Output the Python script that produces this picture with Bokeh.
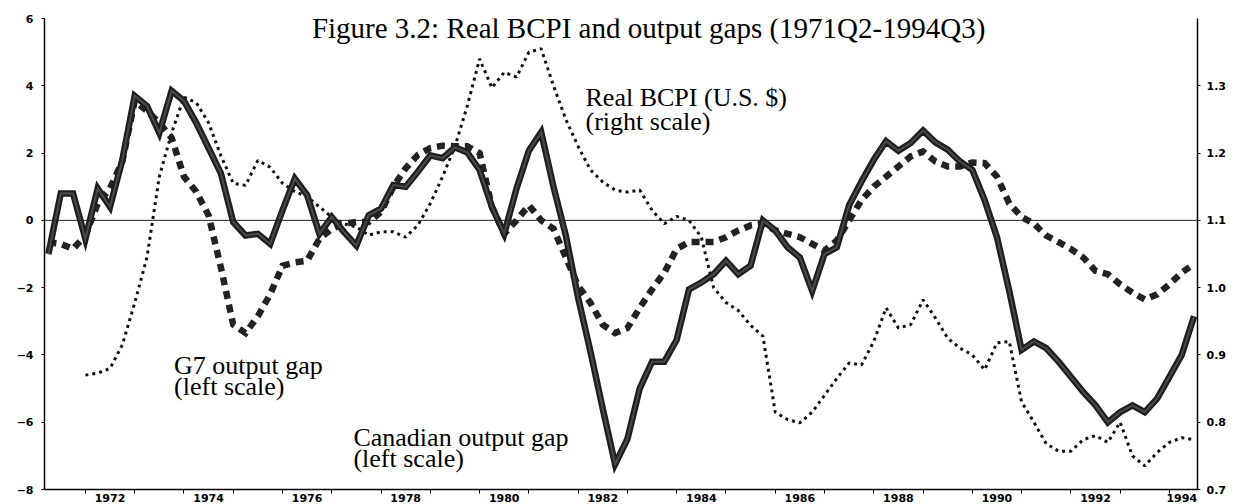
import numpy as np
from bokeh.plotting import figure
from bokeh.models import (Range1d, LinearAxis, FixedTicker, NumeralTickFormatter,
                          CustomJSTickFormatter, Span, Label, ColumnDataSource)
from bokeh.embed import file_html
from bokeh.resources import INLINE

# ---------------- data (quarterly, 1971Q2 - 1994Q3) ----------------
start_year = 1971
start_quarter = 2

canada_gap = [-1.0, 0.8, 0.8, -0.55, 0.95, 0.4, 1.8, 3.7, 3.4, 2.6,
              3.85, 3.55, 2.9, 2.15, 1.4, -0.05, -0.45, -0.4, -0.7, 0.3,
              1.24, 0.75, -0.4, 0.1, -0.35, -0.75, 0.15, 0.35, 1.05, 1.0,
              1.45, 1.93, 1.85, 2.17, 2.02, 1.5, 0.4, -0.4, 0.95, 2.07,
              2.62, 1.0, -0.45, -2.3, -3.9, -5.6, -7.25, -6.5, -5.0, -4.2,
              -4.2, -3.55, -2.05, -1.85, -1.6, -1.2, -1.6, -1.35, 0.0, -0.3,
              -0.8, -1.1, -2.1, -1.0, -0.8, 0.45, 1.15, 1.8, 2.35, 2.07,
              2.3, 2.67, 2.32, 2.1, 1.75, 1.5, 0.6, -0.5, -2.1, -3.85,
              -3.6, -3.8, -4.2, -4.65, -5.1, -5.5, -6.0, -5.7, -5.5, -5.7,
              -5.3, -4.65, -4.0, -2.85]

g7_gap = [-0.65, -0.7, -0.85, -0.45, 0.5, 0.95, 1.75, 3.55, 3.25, 2.9,
          2.45, 1.3, 0.85, 0.15, -1.4, -3.1, -3.35, -2.85, -2.2, -1.35,
          -1.25, -1.2, -0.55, -0.25, -0.1, -0.05, -0.05, 0.25, 1.0, 1.55,
          1.95, 2.15, 2.22, 2.2, 2.2, 2.0, 0.4, -0.4, 0.0, 0.45,
          0.0, -0.25, -1.1, -1.95, -2.45, -3.1, -3.35, -3.2, -2.6, -2.05,
          -1.55, -0.85, -0.64, -0.64, -0.64, -0.5, -0.3, -0.15, -0.1, -0.3,
          -0.4, -0.5, -0.7, -0.9, -0.6, 0.0, 0.6, 1.0, 1.3, 1.6,
          1.9, 2.05, 1.75, 1.6, 1.6, 1.72, 1.7, 1.3, 0.5, 0.1,
          -0.1, -0.45, -0.65, -0.85, -1.1, -1.5, -1.6, -1.9, -2.15, -2.35,
          -2.2, -1.9, -1.55, -1.3]

real_bcpi = [None, None, None, 0.870, 0.873, 0.880, 0.915, 0.977, 1.045, 1.165,
             1.23, 1.283, 1.275, 1.245, 1.196, 1.155, 1.152, 1.189, 1.179, 1.155,
             1.143, 1.135, 1.12, 1.105, 1.095, 1.09, 1.078, 1.083, 1.083, 1.075,
             1.093, 1.125, 1.165, 1.21, 1.27, 1.34, 1.297, 1.32, 1.313, 1.35,
             1.355, 1.30, 1.25, 1.21, 1.175, 1.157, 1.145, 1.142, 1.145, 1.115,
             1.095, 1.106, 1.10, 1.075, 1.0, 0.978, 0.966, 0.944, 0.928, 0.815,
             0.804, 0.799, 0.815, 0.84, 0.865, 0.888, 0.885, 0.92, 0.97, 0.94,
             0.945, 0.982, 0.955, 0.925, 0.91, 0.90, 0.878, 0.918, 0.92, 0.83,
             0.80, 0.768, 0.757, 0.757, 0.774, 0.78, 0.77, 0.80, 0.75, 0.735,
             0.755, 0.77, 0.777, 0.774]

label_years = [1972, 1974, 1976, 1978, 1980, 1982, 1984, 1986, 1988, 1990, 1992, 1994]
left_ticks = [-8, -6, -4, -2, 0, 2, 4, 6]
right_ticks = [0.7, 0.8, 0.9, 1.0, 1.1, 1.2, 1.3]

title_text = "Figure 3.2: Real BCPI and output gaps (1971Q2-1994Q3)"

# ---------------- time axis ----------------
n = len(canada_gap)
t = []
for i in range(n):
    qi = start_quarter - 1 + i
    t.append(start_year + qi // 4 + (qi % 4) / 4.0)

x_lo, x_hi = 1971.17, 1994.57

src = ColumnDataSource(dict(
    t=t,
    can=np.array(canada_gap, dtype=float),
    g7=np.array(g7_gap, dtype=float),
    bcpi=np.array([np.nan if v is None else v for v in real_bcpi], dtype=float),
))

p = figure(width=1243, height=504, x_range=Range1d(x_lo, x_hi), y_range=Range1d(-8, 6),
           output_backend="svg", toolbar_location=None,
           min_border_left=44, min_border_right=46, min_border_top=18, min_border_bottom=10)
p.extra_y_ranges = {"bcpi": Range1d(0.7, 1.4)}
p.outline_line_color = None
p.grid.visible = False
p.background_fill_color = "white"
p.border_fill_color = "white"

# zero line
p.add_layout(Span(location=0, dimension="width", line_color="#222222", line_width=1))

# series
p.line("t", "bcpi", source=src, y_range_name="bcpi", line_color="#111111",
       line_width=3, line_dash="3 4")
p.line("t", "g7", source=src, line_color="#222222", line_width=6.5,
       line_dash="8 6", line_join="miter")
p.line("t", "can", source=src, line_color="#1e1e1e", line_width=6.5, line_join="miter")
p.line("t", "can", source=src, line_color="#4a4a4a", line_width=2, line_join="miter")

# axes styling
def style_axis(ax):
    ax.axis_line_color = "black"
    ax.axis_line_width = 1.5
    ax.major_tick_line_color = "black"
    ax.major_tick_line_width = 1
    ax.major_tick_out = 3
    ax.major_tick_in = 0
    ax.minor_tick_out = 0
    ax.minor_tick_in = 0
    ax.major_label_text_font = "DejaVu Sans"
    ax.major_label_text_font_style = "bold"
    ax.major_label_text_font_size = "11px"
    ax.major_label_text_color = "black"

yl = p.yaxis[0]
style_axis(yl)
yl.ticker = FixedTicker(ticks=left_ticks)
yl.major_label_standoff = 8

yr = LinearAxis(y_range_name="bcpi")
style_axis(yr)
yr.ticker = FixedTicker(ticks=right_ticks)
yr.formatter = NumeralTickFormatter(format="0.0")
yr.major_label_standoff = 6
p.add_layout(yr, "right")

xa = p.xaxis[0]
style_axis(xa)
label_pos = [min(y + 0.5, x_hi - 0.32) for y in label_years]
year_ticks = [y for y in range(1971, 1996) if x_lo < y < x_hi]
xa.ticker = FixedTicker(ticks=label_pos, minor_ticks=year_ticks)
xa.formatter = CustomJSTickFormatter(code="return Math.floor(tick).toFixed(0);")
xa.major_tick_out = 0
xa.minor_tick_out = 4
xa.minor_tick_line_color = "black"
xa.major_label_standoff = 0

# annotations
serif = "Liberation Serif"
fs = "26px"
def add_text(x, y, txt, size=fs, align="left", yoff=0):
    p.add_layout(Label(x=x, y=y, text=txt, text_font=serif, text_font_size=size,
                       text_align=align, text_baseline="alphabetic",
                       text_color="black", y_offset=yoff))

add_text(1983.43, 6, title_text, size="29px", align="center", yoff=-9)
add_text(1982.15, 3.64, "Real BCPI (U.S. $)")
add_text(1982.15, 2.93, "(right scale)")
add_text(1973.80, -4.30, "G7 output gap")
add_text(1973.80, -4.95, "(left scale)")
add_text(1977.44, -6.46, "Canadian output gap")
add_text(1977.44, -7.08, "(left scale)")

open("out.html", "w").write(file_html(p, INLINE))
